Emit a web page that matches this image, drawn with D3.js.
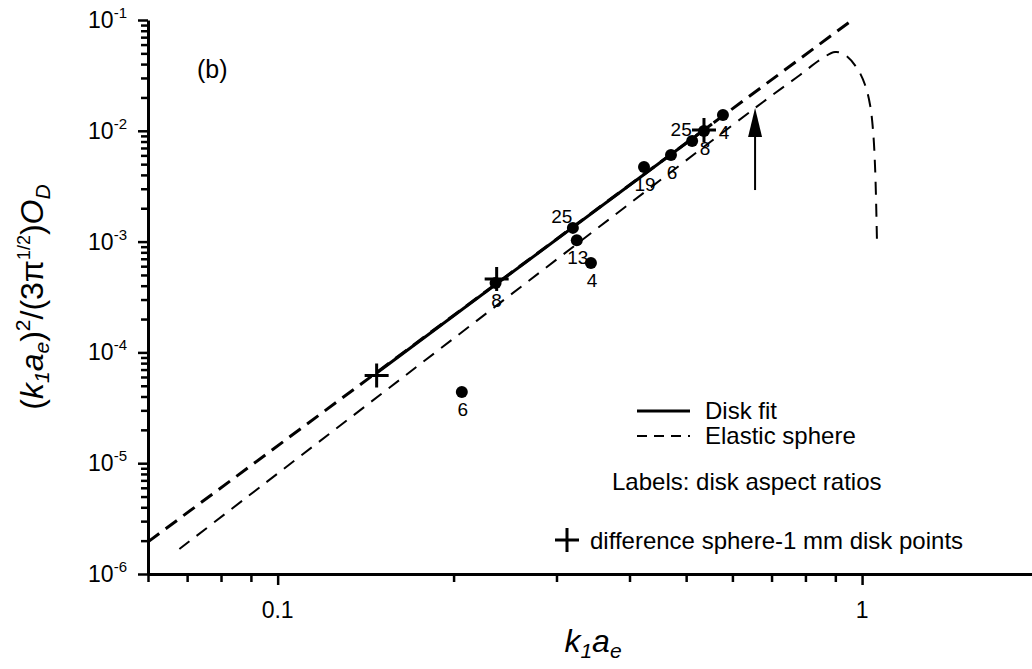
<!DOCTYPE html>
<html>
<head>
<meta charset="utf-8">
<script src="https://cdn.jsdelivr.net/npm/d3@7"></script>
<style>
  body { margin: 0; background: #fff; }
  svg { display: block; font-family: "Liberation Sans", Arial, sans-serif; }
</style>
</head>
<body>
<svg id="chart" width="1032" height="669"></svg>
<script>
// data
const pointX = [0.2066, 0.236, 0.320, 0.325, 0.3436, 0.4235, 0.471, 0.512, 0.5364, 0.578];
const pointY = [4.40e-5, 4.23e-4, 1.33e-3, 1.03e-3, 6.41e-4, 4.71e-3, 6.05e-3, 8.09e-3, 9.95e-3, 1.39e-2];
const pointLabel = ['6', '8', '25', '13', '4', '19', '6', '25', '8', '4'];

const plusX = [0.1477, 0.237, 0.5364];
const plusY = [6.2e-5, 4.59e-4, 1.016e-2];

// disk fit (solid) and its extension (thick dashed)
const fitX = [0.1477, 0.5536];
const fitY = [6.52e-5, 1.151e-2];
const extX = [0.06, 0.954];
const extY = [1.95e-6, 9.68e-2];

// elastic sphere (thin dashed)
const sphereX = [0.0679, 0.677, 0.783, 0.847, 0.899, 0.935, 0.980, 1.012, 1.032, 1.044, 1.053, 1.061];
const sphereY = [1.68e-6, 0.0182, 0.0319, 0.0436, 0.0514, 0.0483, 0.0369, 0.0259, 0.0171, 0.01016, 0.00443, 8.75e-4];

// arrow
const arrowX = [0.656, 0.656];
const arrowY = [2.92e-3, 1.61e-2];

const xMajor = [0.1, 1];
const xMajorLabel = ['0.1', '1'];
const xMinor = [0.06, 0.07, 0.08, 0.09, 0.2, 0.3, 0.4, 0.5, 0.6, 0.7, 0.8, 0.9];
const yMajor = [1e-6, 1e-5, 1e-4, 1e-3, 1e-2, 1e-1];
const yMajorExp = ['-6', '-5', '-4', '-3', '-2', '-1'];
const yMinor = [];
[1e-6, 1e-5, 1e-4, 1e-3, 1e-2].forEach(d => {
    for (let m = 2; m <= 9; m++) yMinor.push(d * m);
});

const svg = d3.select('#chart');

const x = d3.scaleLog().domain([0.06, 2]).range([148, 1038]);
const y = d3.scaleLog().domain([1e-6, 1e-1]).range([574, 20]);

// axes
const xAxisG = svg.append('g').attr('transform', `translate(0,${y(1e-6)})`);
xAxisG.call(d3.axisBottom(x).tickValues(xMajor).tickSize(11).tickSizeOuter(0).tickFormat(''));
xAxisG.append('g').call(d3.axisBottom(x).tickValues(xMinor).tickSize(8).tickSizeOuter(0).tickFormat(''))
    .select('.domain').remove();

const yAxisG = svg.append('g').attr('transform', `translate(${x(0.06)},0)`);
yAxisG.call(d3.axisLeft(y).tickValues(yMajor).tickSize(10).tickSizeOuter(0).tickFormat(''));
yAxisG.append('g').call(d3.axisLeft(y).tickValues(yMinor).tickSize(7).tickSizeOuter(0).tickFormat(''))
    .select('.domain').remove();

svg.selectAll('.domain').attr('stroke', '#000').attr('stroke-width', 3);
svg.selectAll('.tick line').attr('stroke', '#000').attr('stroke-width', 2.5);

// x tick labels
svg.append('g').selectAll('text')
    .data(xMajor)
    .enter()
    .append('text')
    .attr('x', d => x(d))
    .attr('y', 618)
    .attr('text-anchor', 'middle')
    .attr('font-size', 23)
    .text((d, i) => xMajorLabel[i]);

// y tick labels 10^n
const yLab = svg.append('g').selectAll('text')
    .data(yMajor)
    .enter()
    .append('text')
    .attr('x', 127)
    .attr('y', d => y(d) + 8)
    .attr('text-anchor', 'end')
    .attr('font-size', 23);
yLab.append('tspan').text('10');
yLab.append('tspan').attr('font-size', 15).attr('dy', -10).text((d, i) => yMajorExp[i]);

// axis titles
const yTitle = svg.append('text')
    .attr('transform', `translate(43,${(y(1e-6) + y(1e-1)) / 2}) rotate(-90)`)
    .attr('text-anchor', 'middle')
    .attr('font-size', 32);
yTitle.append('tspan').text('(');
yTitle.append('tspan').attr('font-style', 'italic').text('k');
yTitle.append('tspan').attr('font-style', 'italic').attr('font-size', 21).attr('dy', 6).text('1');
yTitle.append('tspan').attr('font-style', 'italic').attr('dy', -6).text('a');
yTitle.append('tspan').attr('font-style', 'italic').attr('font-size', 21).attr('dy', 6).text('e');
yTitle.append('tspan').attr('dy', -6).text(')');
yTitle.append('tspan').attr('font-size', 21).attr('dy', -13).text('2');
yTitle.append('tspan').attr('dy', 13).text('/(3π');
yTitle.append('tspan').attr('font-size', 18).attr('dy', -13).text('1/2');
yTitle.append('tspan').attr('dy', 13).text(')');
yTitle.append('tspan').attr('font-style', 'italic').text('O');
yTitle.append('tspan').attr('font-style', 'italic').attr('font-size', 21).attr('dy', 7).text('D');

const xTitle = svg.append('text')
    .attr('x', (x(0.06) + x(2)) / 2)
    .attr('y', 652)
    .attr('text-anchor', 'middle')
    .attr('font-size', 32)
    .attr('font-style', 'italic');
xTitle.append('tspan').text('k');
xTitle.append('tspan').attr('font-size', 21).attr('dy', 6).text('1');
xTitle.append('tspan').attr('dy', -6).text('a');
xTitle.append('tspan').attr('font-size', 21).attr('dy', 6).text('e');

// panel tag
svg.append('text').attr('x', 197).attr('y', 78).attr('font-size', 25).text('(b)');

// lines
const line = d3.line().x(d => x(d[0])).y(d => y(d[1]));

svg.append('path')
    .datum(extX.map((v, i) => [v, extY[i]]))
    .attr('d', line)
    .attr('fill', 'none').attr('stroke', '#000').attr('stroke-width', 3)
    .attr('stroke-dasharray', '14,8');

svg.append('path')
    .datum(sphereX.map((v, i) => [v, sphereY[i]]))
    .attr('d', d3.line().x(d => x(d[0])).y(d => y(d[1])).curve(d3.curveCatmullRom.alpha(0.5)))
    .attr('fill', 'none').attr('stroke', '#000').attr('stroke-width', 2)
    .attr('stroke-dasharray', '13,9');

svg.append('path')
    .datum(fitX.map((v, i) => [v, fitY[i]]))
    .attr('d', line)
    .attr('fill', 'none').attr('stroke', '#000').attr('stroke-width', 3);

// data points
svg.append('g').selectAll('circle')
    .data(pointX.map((v, i) => [v, pointY[i]]))
    .enter()
    .append('circle')
    .attr('cx', d => x(d[0]))
    .attr('cy', d => y(d[1]))
    .attr('r', 6)
    .attr('fill', '#000');

// point labels: 25 goes above-left, others below
svg.append('g').selectAll('text')
    .data(pointX.map((v, i) => [v, pointY[i], pointLabel[i]]))
    .enter()
    .append('text')
    .attr('x', d => x(d[0]) + (d[2] === '25' ? -11 : 1))
    .attr('y', d => y(d[1]) + (d[2] === '25' ? -5 : 24))
    .attr('text-anchor', 'middle')
    .attr('font-size', 19)
    .text(d => d[2]);

// plus markers
const plusPath = 'M-12,0H12M0,-12V12';
svg.append('g').selectAll('path')
    .data(plusX.map((v, i) => [v, plusY[i]]))
    .enter()
    .append('path')
    .attr('transform', d => `translate(${x(d[0])},${y(d[1])})`)
    .attr('d', plusPath)
    .attr('stroke', '#000').attr('stroke-width', 3);

// arrow
const ax = x(arrowX[0]), ay0 = y(arrowY[0]), ay1 = y(arrowY[1]);
svg.append('line')
    .attr('x1', ax).attr('x2', ax)
    .attr('y1', ay0).attr('y2', ay1 + 25)
    .attr('stroke', '#000').attr('stroke-width', 2);
svg.append('path')
    .attr('d', `M${ax},${ay1}L${ax - 7},${ay1 + 29}L${ax + 7},${ay1 + 29}Z`)
    .attr('fill', '#000');

// legend
const leg = svg.append('g').attr('font-size', 24);
leg.append('line').attr('x1', 637).attr('x2', 690).attr('y1', 411).attr('y2', 411)
    .attr('stroke', '#000').attr('stroke-width', 3);
leg.append('text').attr('x', 705).attr('y', 419).text('Disk fit');
leg.append('line').attr('x1', 637).attr('x2', 690).attr('y1', 436).attr('y2', 436)
    .attr('stroke', '#000').attr('stroke-width', 2).attr('stroke-dasharray', '10,7');
leg.append('text').attr('x', 705).attr('y', 444).text('Elastic sphere');
leg.append('text').attr('x', 612).attr('y', 490).text('Labels: disk aspect ratios');
leg.append('path').attr('transform', 'translate(567,540)').attr('d', plusPath)
    .attr('stroke', '#000').attr('stroke-width', 3);
leg.append('text').attr('x', 590).attr('y', 549).text('difference sphere-1 mm disk points');
</script>
</body>
</html>
